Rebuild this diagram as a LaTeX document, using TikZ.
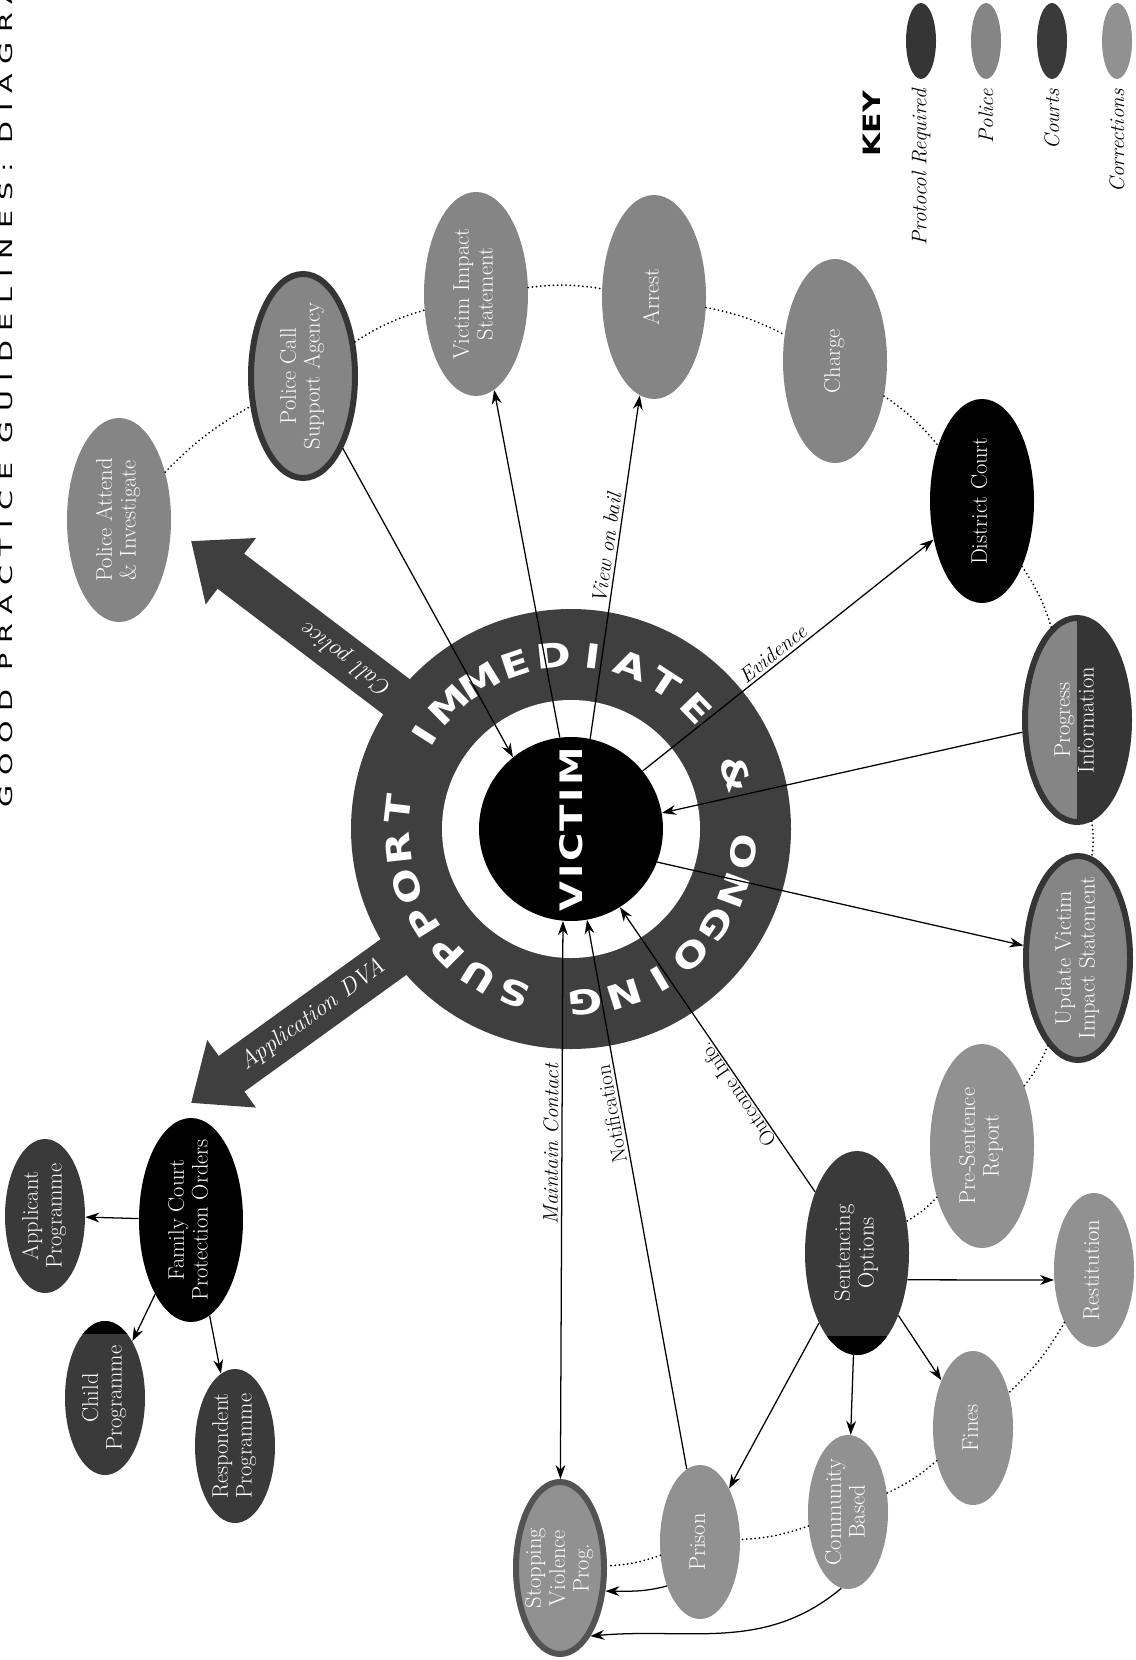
\documentclass[tikz,border=0pt]{standalone}
\usepackage{fontspec}
\usepackage{graphicx}
\usetikzlibrary{positioning, arrows.meta, shapes.geometric, calc}
\newfontfamily\widesans[FakeStretch=1.25]{DejaVu Sans}
\newfontfamily\victimsans[FakeStretch=1.25, LetterSpace=8]{DejaVu Sans}
\newfontfamily\titlesans[FakeStretch=1.6, LetterSpace=55]{DejaVu Sans}
\definecolor{policec}{HTML}{858585}
\definecolor{corrc}{HTML}{919191}
\definecolor{courtc}{HTML}{3A3A3A}
\definecolor{protoc}{HTML}{353535}
\definecolor{ringc}{HTML}{3F3F3F}
% centred text that does not make the ellipse grow
\newcommand{\intext}[1]{\makebox[0pt]{\raisebox{\dimexpr(\depth-\height)/2\relax}[0pt][0pt]{\begin{tabular}[b]{@{}c@{}}#1\end{tabular}}}}

\begin{document}
\begin{tikzpicture}[x=0.25mm, y=0.25mm, >={Stealth[length=10pt, width=7pt]},
    ell/.style={ellipse, rotate=90, inner sep=0pt, text=white, font=\fontsize{16}{17}\selectfont},
    bigell/.style={ell, minimum width=51mm, minimum height=26mm},
    smallell/.style={ell, minimum width=38.5mm, minimum height=20mm},
    proto/.style={draw=protoc, line width=1.5mm},
    conn/.style={->, line width=0.9pt},
    dotlink/.style={line width=1.4pt, line cap=round, dash pattern=on 0pt off 3pt},
    lbl/.style={font=\fontsize{15}{16}\selectfont\itshape, inner sep=2pt},
    lblu/.style={font=\fontsize{15}{16}\selectfont, inner sep=2pt},
    fat/.style={ringc, line width=11mm, -{Triangle[length=12.5mm, width=20mm]}},
    fatlbl/.style={font=\fontsize{17}{18}\selectfont\itshape, text=white, sloped}]
    \useasboundingbox (0,0) rectangle (1136,-1660);
    \node[rotate=90, anchor=west, inner sep=0pt, font=\titlesans\fontsize{12.7}{13}\selectfont] (title)
      at (6,-808) {GOOD PRACTICE GUIDELINES: DIAGRA};

    \coordinate (vc) at (571,-829);
    \coordinate (calltip) at (191,-541);
    \coordinate (dvatip) at (191,-1103);
    % the two broad arrows behind the ring
    \draw[fat] (vc) -- node[fatlbl, allow upside down, pos=0.59] (calllbl) {Call police} (calltip);
    \draw[fat] (vc) -- node[fatlbl, pos=0.68] (dvalbl) {Application DVA} (dvatip);

    % support ring
    \fill[ringc] (vc) circle (220);
    \fill[white] (vc) circle (129);
    \foreach \ch [count=\i from 0] in {S,U,P,P,O,R,T,{},I,M,M,E,D,I,A,T,E,{},\&,{},O,N,G,O,I,N,G}
      \node[text=white, inner sep=0pt, font=\widesans\bfseries\fontsize{24}{24}\selectfont,
        rotate={161-12.93*\i}] (ring\i) at ($(vc)+({251-12.93*\i}:174)$) {\ch};
    \node[circle, fill=black, minimum size=46mm, inner sep=0pt, text=white,
      font=\victimsans\bfseries\fontsize{22}{22}\selectfont] (victim) at (vc) {\rotatebox{90}{VICTIM}};

    % police side
    \node[bigell, fill=policec] (pattend) at (119,-520) {\intext{Police Attend\\\& Investigate}};
    \node[bigell, fill=policec, proto] (pcall) at (303,-376) {\intext{Police Call\\Support Agency}};
    \node[bigell, fill=policec] (vis) at (476,-294) {\intext{Victim Impact\\Statement}};
    \node[bigell, fill=policec] (arrest) at (654,-297) {\intext{Arrest}};
    \node[bigell, fill=policec] (charge) at (835,-361) {\intext{Charge}};
    % courts side
    \node[bigell, fill=black] (court) at (982,-501) {\intext{District Court}};
    \fill[policec] (1077,-720) ellipse [x radius=52, y radius=102];
    \begin{scope}
      \clip (1077,-600) rectangle (1150,-840);
      \fill[protoc] (1077,-720) ellipse [x radius=52, y radius=102];
    \end{scope}
    \node[bigell, proto] (prog) at (1077,-720) {\intext{Progress\\Information}};
    \node[bigell, fill=policec, proto] (uvis) at (1078,-958) {\intext{Update Victim\\Impact Statement}};
    \node[bigell, fill=corrc] (psr) at (982,-1146) {\intext{Pre-Sentence\\Report}};
    \node[bigell, fill=courtc] (sent) at (857,-1253) {\intext{Sentencing\\Options}};
    \begin{scope}
      \clip (790,-1336) rectangle (930,-1370);
      \fill[black] (sent.center) ellipse [x radius=52, y radius=102];
    \end{scope}
    % corrections
    \node[smallell, fill=corrc] (rest) at (1094,-1270) {\intext{Restitution}};
    \node[smallell, fill=corrc] (fines) at (973,-1428) {\intext{Fines}};
    \node[smallell, fill=corrc] (comm) at (848,-1512) {\intext{Community\\Based}};
    \node[smallell, fill=corrc] (prison) at (700,-1542) {\intext{Prison}};
    \node[ell, minimum width=43mm, minimum height=22mm, fill=corrc, draw=protoc!85, line width=1.5mm]
      (svp) at (560,-1568) {\intext{Stopping\\Violence\\Prog.}};
    % family court
    \node[bigell, fill=black] (fcpo) at (191,-1220) {\intext{Family Court\\Protection Orders}};
    \node[smallell, fill=courtc] (appl) at (45,-1216) {\intext{Applicant\\Programme}};
    \node[smallell, fill=courtc] (child) at (105,-1398) {\intext{Child\\Programme}};
    \begin{scope}
      \clip (60,-1310) rectangle (150,-1333);
      \fill[black] (child.center) ellipse [x radius=40, y radius=77];
    \end{scope}
    \node[smallell, fill=courtc] (resp) at (235,-1446) {\intext{Respondent\\Programme}};

    \foreach \a/\b in {pattend/pcall, pcall/vis, vis/arrest, arrest/charge, charge/court, court/prog,
        prog/uvis, uvis/psr, psr/sent, rest/fines, fines/comm, comm/prison, prison/svp}
      \draw[dotlink] (\a) to[bend left=8] (\b);

    \draw[conn] (pcall) -- (victim.129);
    \draw[conn] (victim.97) -- (vis);
    \draw[conn] (victim.78) -- node[lbl, sloped, above, pos=0.55] (bail) {View on bail} (arrest);
    \draw[conn] (victim.39) -- node[lbl, sloped, above, pos=0.47] (evid) {Evidence} (court);
    \draw[conn] (prog) -- (victim.10);
    \draw[conn] (victim.-21) -- (uvis);
    \draw[<->, line width=0.9pt] (svp) -- node[lbl, sloped, above, pos=0.6] (maint) {Maintain Contact} (victim.265);
    \draw[conn] (prison) -- node[lblu, sloped, above, allow upside down, pos=0.65] (notif) {Notification} (victim.-80);
    \draw[conn] (sent) -- node[lblu, sloped, above, allow upside down, pos=0.36, inner sep=1pt] (outc) {Outcome Info.} (victim.-58);
    \draw[conn] (sent) -- (prison);
    \draw[conn] (sent) -- (comm);
    \draw[conn] (sent) -- (fines);
    \draw[conn] (sent.-118) -- (rest.104);
    \draw[conn] (prison.143) to[out=195, in=0] (svp.-117);
    \draw[conn] (comm.175) to[out=220, in=5] (svp.204);
    \draw[conn] (fcpo) -- (appl);
    \draw[conn] (fcpo) -- (child);
    \draw[conn] (fcpo) -- (resp);

    % key
    \node[rotate=90, anchor=east, inner sep=0pt, font=\widesans\bfseries\fontsize{17}{17}\selectfont] (keyhead) at (872,-91) {KEY};
    \foreach \kx/\kc/\kt [count=\k] in {921/protoc/Protocol Required, 986/policec/Police, 1052/courtc/Courts, 1117/corrc/Corrections} {
      \node[ellipse, rotate=90, fill=\kc, minimum width=19mm, minimum height=7.5mm, inner sep=0pt] (keyell\k) at (\kx,-41) {};
      \node[rotate=90, anchor=east, inner sep=0pt, font=\fontsize{15}{16}\selectfont\itshape] (keylbl\k) at (\kx,-89) {\kt};
    }
\end{tikzpicture}
\end{document}
